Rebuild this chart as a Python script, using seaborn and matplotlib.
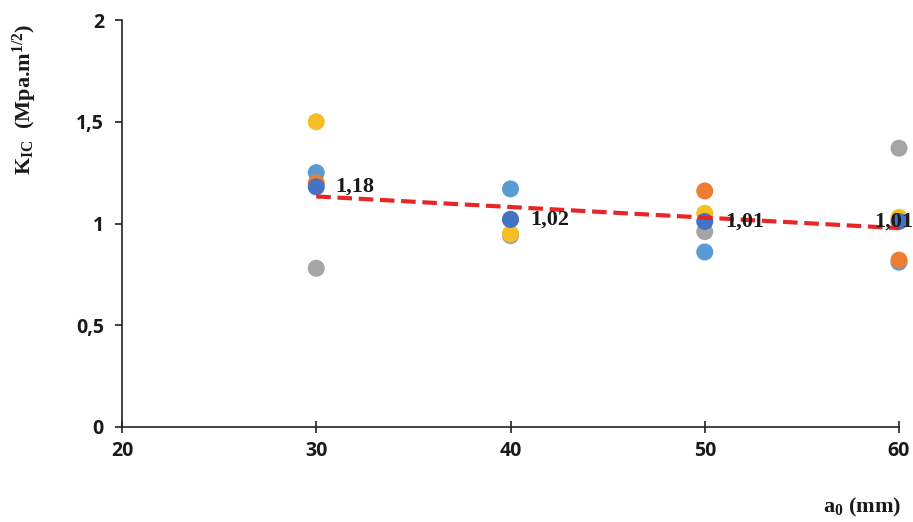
import numpy as np
import pandas as pd
import matplotlib
matplotlib.use("Agg")
import matplotlib.pyplot as plt
import seaborn as sns

# Crack length a0 (mm) and measured fracture toughness per specimen series
a0 = [30, 40, 50, 60]
series_1 = [1.25, 1.17, 0.86, 0.81]   # light blue
series_2 = [1.20, 1.02, 1.16, 0.82]   # orange
series_3 = [0.78, 0.94, 0.96, 1.37]   # gray
series_4 = [1.50, 0.95, 1.05, 1.03]   # yellow
mean_kic = [1.18, 1.02, 1.01, 1.01]   # dark blue (average)
mean_labels = ["1,18", "1,02", "1,01", "1,01"]

colors = ["#5B9BD5", "#ED7D31", "#A5A5A5", "#F6BE25", "#4472C4"]
names = ["s1", "s2", "s3", "s4", "mean"]

sns.set_theme(style="white")
plt.rcParams["mathtext.fontset"] = "custom"
plt.rcParams["mathtext.rm"] = "Liberation Serif:bold"
plt.rcParams["mathtext.bf"] = "Liberation Serif:bold"
plt.rcParams["mathtext.it"] = "Liberation Serif:bold"
plt.rcParams["mathtext.default"] = "rm"

fig = plt.figure(figsize=(9.13, 5.22), dpi=100)
ax = fig.add_axes([122 / 913, 1 - 427 / 522, (899 - 122) / 913, (427 - 20) / 522])

rows = []
for name, vals in zip(names, [series_1, series_2, series_3, series_4, mean_kic]):
    for x, y in zip(a0, vals):
        rows.append({"a0": x, "kic": y, "series": name})
df = pd.DataFrame(rows)

sns.scatterplot(data=df, x="a0", y="kic", hue="series", hue_order=names,
                palette=colors, s=150, edgecolor="none", legend=False,
                ax=ax, zorder=3, clip_on=False)

# Linear trend of the averaged values
coef = np.polyfit(a0, mean_kic, 1)
xs = np.array([a0[0], a0[-1]])
trend = pd.DataFrame({"a0": xs, "kic": np.polyval(coef, xs)})
sns.lineplot(data=trend, x="a0", y="kic", ax=ax, color="#E8262A",
             linewidth=3, linestyle=(0, (3.5, 1.6)), zorder=4)

# value labels next to the averaged points (last one pulled left to stay in frame)
offsets = [(14, 0), (14, 0), (15, 0), (-18, 0)]
for (x, y, lab), off in zip(zip(a0, mean_kic, mean_labels), offsets):
    ax.annotate(lab, (x, y), xytext=off, textcoords="offset points",
                ha="left", va="center", fontsize=16, fontweight="bold",
                family="Liberation Serif", color="#1a1a1a", zorder=5,
                annotation_clip=False)

ax.set_xlim(20, 60)
ax.set_ylim(0, 2)
ax.set_xticks([20, 30, 40, 50, 60])
ax.set_yticks([0, 0.5, 1, 1.5, 2])
ax.set_yticklabels(["0", "0,5", "1", "1,5", "2"])
ax.set_xlabel("")
ax.set_ylabel("")

for side in ["top", "right"]:
    ax.spines[side].set_visible(False)
for side in ["left", "bottom"]:
    ax.spines[side].set_color("#222222")
    ax.spines[side].set_linewidth(1.2)

ax.tick_params(axis="y", direction="out", length=5, width=1.2, color="#222222",
               left=True, pad=8)
ax.tick_params(axis="x", direction="inout", length=8, width=1.2, color="#222222",
               bottom=True, pad=6)
for lab in ax.get_xticklabels() + ax.get_yticklabels():
    lab.set_fontfamily("Open Sans")
    lab.set_fontweight("bold")
    lab.set_fontsize(14)
    lab.set_color("#1a1a1a")

fig.text(25 / 913, 1 - 99 / 522, r"K$_{\mathrm{IC}}$  (Mpa.m$^{\mathrm{1/2}}$)",
         rotation=90, ha="center", va="center", fontsize=16,
         fontweight="bold", family="Liberation Serif", color="#1a1a1a")
fig.text(862 / 913, 1 - 507 / 522, r"a$_{\mathrm{0}}$ (mm)",
         ha="center", va="center", fontsize=16,
         fontweight="bold", family="Liberation Serif", color="#1a1a1a")

fig.savefig("out.png", dpi=100)
